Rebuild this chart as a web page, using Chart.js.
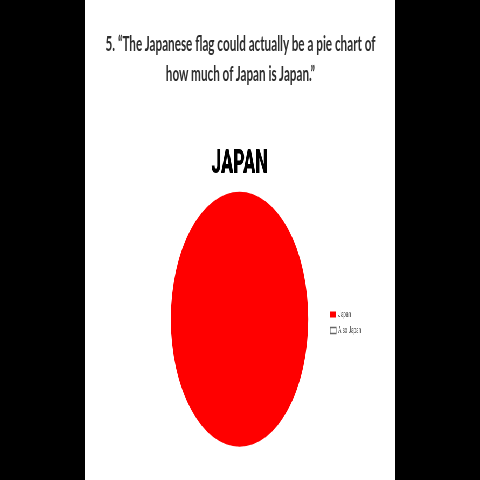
<!DOCTYPE html>
<html>
<head>
<meta charset="utf-8">
<script src="https://cdn.jsdelivr.net/npm/chart.js@4.4.1/dist/chart.umd.min.js"></script>
<style>
  html, body { margin: 0; padding: 0; background: #000; width: 480px; height: 480px; overflow: hidden; position: relative; }
  #wrap { position: absolute; left: 85px; top: 0; width: 575px; height: 480px;
          transform: scaleX(0.539); transform-origin: 0 0; background: #fff; }
  canvas { display: block; }
  #headline { position: absolute; left: 0; width: 480px; top: 28px;
              font-family: 'Lato', sans-serif; font-weight: bold; font-size: 20px; line-height: 30px;
              color: #2e2e2e; white-space: nowrap; }
  #headline .line { position: relative; height: 30px; }
  #headline span { position: absolute; top: 0; display: inline-block; }
</style>
</head>
<body>
<div id="wrap"><canvas id="c" width="575" height="480"></canvas></div>
<div id="headline"></div>
<script>
// ---- data ----
const headlineLines = ['5. \u201CThe Japanese flag could actually be a pie chart of', 'how much of Japan is Japan.\u201D'];
const chartTitle = 'JAPAN';
const categories = ['Japan', 'Also Japan'];
const values = [100, 0];
const sliceColors = ['#ff0000', '#ffffff'];
const sliceBorders = ['#ff0000', '#666666'];
const sliceBorderWidths = [0, 1.5];

// headline (caption above the chart), squeezed like the source image
const hl = document.getElementById('headline');
const spans = headlineLines.map(t => {
  const d = document.createElement('div'); d.className = 'line';
  const s = document.createElement('span'); s.textContent = t;
  d.appendChild(s); hl.appendChild(d); return s;
});
const squeeze = 270 / spans[0].offsetWidth;
spans.forEach(s => {
  const w = s.offsetWidth;
  s.style.left = (240 - w / 2) + 'px';
  s.style.transformOrigin = (w / 2) + 'px 0';
  s.style.transform = 'scaleX(' + squeeze + ')';
});

new Chart(document.getElementById('c'), {
  type: 'pie',
  data: {
    labels: categories,
    datasets: [{
      data: values,
      backgroundColor: sliceColors,
      borderColor: sliceBorders,
      borderWidth: sliceBorderWidths,
      radius: 127.5,
      clip: false
    }]
  },
  options: {
    responsive: false,
    animation: false,
    events: [],
    layout: { padding: { left: 126.1, right: 52.6, top: 0, bottom: 31.6 } },
    plugins: {
      title: {
        display: true,
        fullSize: false,
        text: chartTitle,
        color: '#000000',
        font: { family: 'Roboto', weight: 900, size: 33, lineHeight: 1.2 },
        padding: { top: 145.4, bottom: 5 }
      },
      legend: {
        display: true,
        fullSize: false,
        position: 'right',
        align: 'center',
        title: { display: true, text: '', font: { size: 5.5, lineHeight: 1.2 }, padding: 0 },
        labels: {
          boxWidth: 11,
          boxHeight: 6,
          padding: 7.5,
          color: '#444444',
          font: { family: 'Roboto', size: 8.5 }
        }
      },
      tooltip: { enabled: false }
    }
  }
});
</script>
</body>
</html>
